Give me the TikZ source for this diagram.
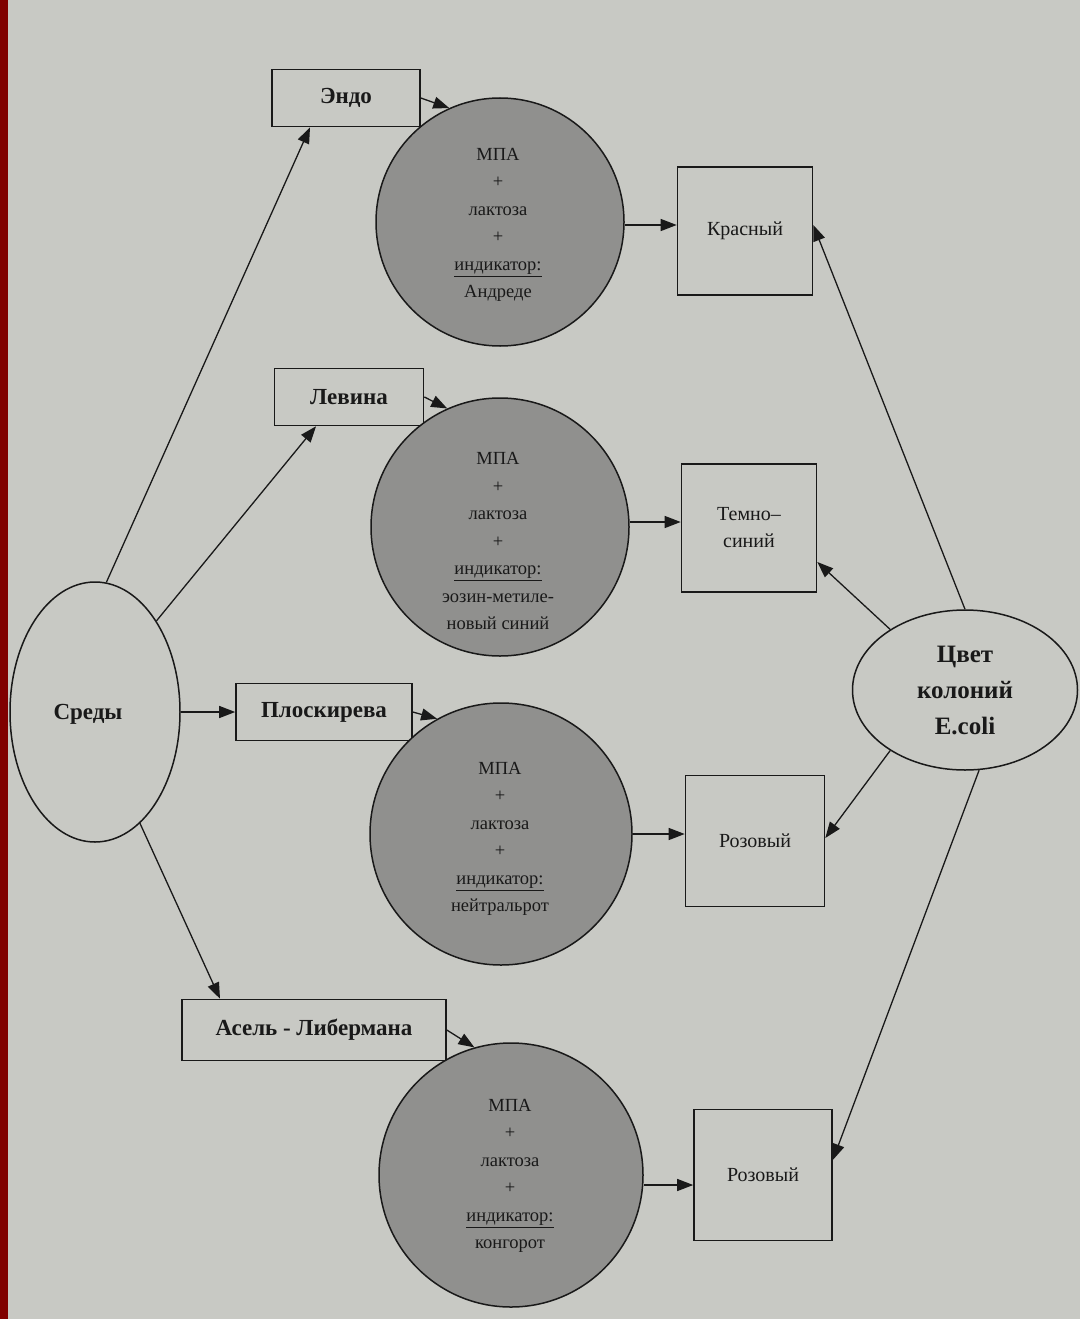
\documentclass[tikz,border=0pt]{standalone}
\usepackage{fontspec}
\setmainfont{Liberation Serif}
\usetikzlibrary{arrows.meta,shapes.geometric}
\definecolor{paper}{RGB}{200,201,196}
\definecolor{disc}{RGB}{144,144,142}
\definecolor{strip}{RGB}{128,0,0}
\definecolor{ink}{RGB}{25,25,25}
\begin{document}
\begin{tikzpicture}[x=1pt,y=-1pt,
  every node/.style={text=ink},
  medium/.style={draw=ink,line width=1.6pt,rectangle,minimum height=57pt,inner sep=0pt,
    font=\fontsize{23}{28}\selectfont\bfseries},
  result/.style={draw=ink,line width=1.6pt,rectangle,minimum width=136pt,minimum height=128pt,inner sep=0pt,
    align=center,font=\fontsize{20}{27}\selectfont},
  disk/.style={draw=ink,line width=1.5pt,circle,fill=disc,inner sep=0pt},
  disktext/.style={align=center,inner sep=0pt,font=\fontsize{18.5}{27.5}\selectfont},
  oval/.style={draw=ink,line width=1.5pt,ellipse,inner sep=0pt,align=center},
  conn/.style={draw=ink,line width=1.3pt,-{Triangle[length=16pt,width=12pt]}}]
\useasboundingbox (0,0) rectangle (1080,1319);
\fill[paper] (0,0) rectangle (1080,1319);
\fill[strip] (0,0) rectangle (8,1319);

% source ellipse
\node[oval,minimum width=170pt,minimum height=260pt] (sredy) at (95,712) {};
\node[font=\fontsize{23}{28}\selectfont\bfseries] (sredyt) at (88,714) {Среды};
% target ellipse
\node[oval,minimum width=225pt,minimum height=160pt,font=\fontsize{25}{36}\selectfont\bfseries] (tsvet) at (965,690) {Цвет\\колоний\\E.coli};

% media boxes
\node[medium,minimum width=148pt] (endo) at (346,98) {Эндо};
\node[medium,minimum width=149pt] (levin) at (349,397) {Левина};
\node[medium,minimum width=176pt] (plosk) at (324,712) {Плоскирева};
\node[medium,minimum width=264pt,minimum height=61pt] (asel) at (314,1030) {Асель - Либермана};

% discs
\node[disk,minimum size=248pt] (c1) at (500,222) {};
\node[disk,minimum size=258pt] (c2) at (500,527) {};
\node[disk,minimum size=262pt] (c3) at (501,834) {};
\node[disk,minimum size=264pt] (c4) at (511,1175) {};
\node[disktext] (c1t) at (498,225) {МПА\\+\\лактоза\\+\\\underline{индикатор:}\\Андреде};
\node[disktext] (c2t) at (498,541) {МПА\\+\\лактоза\\+\\\underline{индикатор:}\\эозин-метиле-\\новый синий};
\node[disktext] (c3t) at (500,839) {МПА\\+\\лактоза\\+\\\underline{индикатор:}\\нейтральрот};
\node[disktext] (c4t) at (510,1176) {МПА\\+\\лактоза\\+\\\underline{индикатор:}\\конгорот};

% result boxes
\node[result,minimum width=135pt] (krasny) at (745,231) {Красный};
\node[result,minimum width=135pt] (temno) at (749,528) {Темно–\\синий};
\node[result,minimum width=139pt,minimum height=131pt] (roz1) at (755,841) {Розовый};
\node[result,minimum width=138pt,minimum height=131pt] (roz2) at (763,1175) {Розовый};

% Среды -> media
\draw[conn] (sredy.85) -- ([xshift=-36pt]endo.south);
\draw[conn] (sredy.56) -- ([xshift=-33pt]levin.south);
\draw[conn] (sredy.east) -- (plosk.west);
\draw[conn] (sredy.-68) -- ([xshift=-94pt]asel.north);

% media -> discs
\draw[conn] (endo.east) -- (c1.114);
\draw[conn] (levin.east) -- (c2.114);
\draw[conn] (plosk.east) -- (c3.119);
\draw[conn] (asel.east) -- (c4.106);

% discs -> results
\draw[conn] ([yshift=-3pt]c1.east) -- ([yshift=-3pt]c1.east -| krasny.west);
\draw[conn] ([yshift=5pt]c2.east) -- ([yshift=5pt]c2.east -| temno.west);
\draw[conn] (c3.east) -- (c3.east -| roz1.west);
\draw[conn] ([yshift=-10pt]c4.east) -- ([yshift=-10pt]c4.east -| roz2.west);

% Цвет -> results
\draw[conn] (tsvet.north) -- ([yshift=6pt]krasny.east);
\draw[conn] (tsvet.141) -- ([yshift=-34pt]temno.east);
\draw[conn] (tsvet.219) -- ([yshift=3pt]roz1.east);
\draw[conn] (tsvet.280) -- ([yshift=15pt]roz2.east);
\end{tikzpicture}
\end{document}
